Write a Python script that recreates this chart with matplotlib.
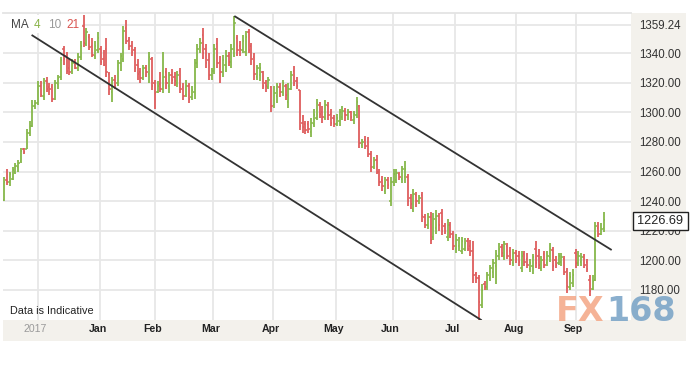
import matplotlib
matplotlib.use('Agg')
import matplotlib.pyplot as plt
from matplotlib.patches import Rectangle
import matplotlib.transforms as mtransforms
import numpy as np

# ---------------- data ----------------
opens = [1241,1254,1253,1255,1260,1263,1267,1275,1275,1286,1291,1304,1306,1318,1311,1321,1317,1317,1309,1319,
         1324,1343,1338,1330,1328,1334,1330,1337,1358,1346,1351,1345,1338,1342,1343,1336,1343,1326,1314,1322,
         1320,1333,1336,1357,1349,1345,1342,1332,1327,1323,1330,1326,1336,1320,1314,1319,1316,1327,1318,1325,
         1324,1320,1328,1317,1312,1318,1310,1314,1333,1344,1352,1343,1335,1325,1328,1346,1334,1327,1332,1338,
         1334,1340,1350,1345,1342,1341,1354,1345,1337,1324,1325,1327,1320,1317,1317,1305,1311,1317,1314,1318,
         1307,1316,1328,1321,1315,1293,1292,1292,1287,1292,1296,1305,1300,1296,1304,1299,1296,1292,1294,1297,
         1301,1298,1300,1295,1298,1304,1278,1281,1280,1272,1263,1268,1260,1254,1247,1254,1240,1253,1254,1258,
         1255,1256,1256,1242,1235,1244,1240,1244,1229,1224,1229,1216,1222,1230,1232,1223,1216,1224,1218,1208,
         1210,1206,1208,1213,1210,1206,1191,1188,1170,1184,1182,1188,1192,1196,1203,1209,1203,1210,1206,1198,
         1205,1203,1195,1204,1201,1194,1196,1208,1203,1195,1204,1198,1202,1207,1200,1198,1199,1201,1193,1182,
         1185,1205,1198,1199,1202,1199,1187,1181,1187,1222,1218,1222]
highs = [1256,1262,1260,1263,1266,1268,1276,1276,1289,1294,1308,1308,1321,1321,1323,1324,1320,1319,1322,1325,
         1337,1345,1341,1336,1336,1336,1340,1348,1366,1357,1353,1350,1348,1354,1345,1342,1350,1327,1324,1325,
         1335,1340,1358,1362,1351,1348,1344,1336,1330,1332,1332,1341,1337,1322,1321,1327,1341,1330,1327,1329,
         1327,1328,1330,1320,1322,1320,1318,1336,1346,1350,1357,1346,1340,1330,1346,1350,1338,1339,1342,1341,
         1346,1365,1352,1348,1352,1355,1356,1347,1340,1332,1333,1328,1322,1324,1318,1318,1320,1320,1322,1319,
         1320,1328,1331,1324,1315,1298,1294,1294,1296,1302,1309,1307,1304,1308,1307,1302,1298,1299,1302,1304,
         1303,1302,1301,1301,1310,1305,1282,1284,1283,1274,1270,1271,1262,1257,1256,1256,1256,1262,1262,1260,
         1264,1267,1258,1245,1248,1246,1244,1246,1231,1232,1233,1232,1234,1232,1235,1225,1228,1226,1220,1218,
         1216,1216,1215,1215,1214,1213,1192,1190,1184,1186,1192,1197,1201,1207,1212,1211,1213,1212,1209,1208,
         1207,1206,1206,1206,1205,1201,1204,1213,1208,1203,1206,1206,1212,1209,1203,1205,1205,1203,1195,1192,
         1194,1208,1206,1205,1204,1201,1190,1190,1226,1226,1225,1233]
lows = [1240,1251,1250,1254,1258,1260,1266,1272,1275,1284,1290,1302,1305,1310,1308,1314,1312,1307,1308,1316,
        1322,1332,1326,1325,1326,1329,1328,1335,1344,1345,1342,1337,1336,1340,1332,1331,1324,1312,1307,1316,
        1318,1328,1334,1346,1342,1338,1327,1322,1320,1322,1324,1320,1315,1302,1313,1314,1313,1316,1313,1319,
        1318,1317,1313,1308,1310,1306,1308,1309,1330,1340,1336,1330,1322,1322,1326,1330,1320,1324,1327,1331,
        1330,1337,1338,1338,1340,1338,1340,1332,1322,1322,1321,1316,1314,1316,1300,1303,1306,1310,1311,1308,
        1303,1315,1318,1316,1288,1286,1285,1286,1283,1290,1295,1296,1293,1295,1295,1291,1290,1291,1291,1295,
        1294,1295,1294,1292,1296,1276,1276,1275,1270,1260,1262,1258,1250,1247,1245,1248,1237,1250,1252,1254,
        1252,1252,1237,1235,1233,1236,1238,1226,1222,1221,1211,1214,1218,1220,1217,1218,1213,1215,1207,1205,
        1206,1204,1206,1206,1203,1185,1185,1160,1168,1180,1180,1186,1188,1184,1200,1202,1200,1201,1197,1196,
        1198,1196,1192,1196,1195,1192,1191,1195,1194,1193,1195,1196,1199,1193,1195,1197,1196,1190,1178,1180,
        1182,1195,1196,1196,1195,1192,1176,1180,1186,1216,1217,1219]
closes = [1253,1253,1258,1261,1264,1266,1274,1273,1286,1291,1304,1306,1318,1312,1320,1316,1316,1309,1320,1323,
          1335,1336,1328,1327,1333,1330,1337,1345,1347,1354,1344,1339,1345,1350,1334,1332,1327,1316,1321,1318,
          1333,1338,1355,1348,1345,1341,1330,1326,1323,1330,1327,1337,1318,1313,1318,1316,1324,1320,1325,1322,
          1321,1325,1316,1311,1318,1309,1315,1333,1343,1347,1340,1333,1325,1328,1343,1333,1327,1335,1338,1334,
          1343,1360,1342,1343,1348,1351,1342,1336,1326,1330,1330,1318,1318,1322,1304,1313,1318,1314,1320,1312,
          1316,1325,1320,1318,1291,1290,1288,1289,1293,1298,1306,1299,1297,1305,1298,1293,1292,1296,1300,1301,
          1298,1300,1297,1299,1307,1279,1280,1277,1272,1263,1267,1260,1253,1250,1253,1251,1253,1258,1259,1256,
          1262,1262,1240,1238,1245,1240,1242,1230,1224,1229,1214,1228,1230,1224,1220,1220,1224,1218,1210,1214,
          1215,1213,1212,1208,1206,1190,1188,1172,1180,1182,1190,1195,1198,1204,1208,1205,1211,1203,1200,1205,
          1201,1199,1203,1199,1197,1198,1202,1198,1197,1200,1197,1203,1208,1196,1197,1203,1202,1192,1183,1189,
          1190,1198,1203,1202,1197,1194,1179,1186,1223,1218,1221,1227]

month_labels = ['2017', 'Jan', 'Feb', 'Mar', 'Apr', 'May', 'Jun', 'Jul', 'Aug', 'Sep']
month_pos = [11.85, 33.76, 53.1, 73.5, 94.6, 116.75, 136.8, 158.6, 180.05, 201.15]
ytick_values = [1180, 1200, 1220, 1240, 1260, 1280, 1300, 1320, 1340, 1359.24]
last_price = 1226.69

upper_line_idx = [81, 213.7]
upper_line_price = [1365, 1207]
lower_line_idx = [9.7, 168]
lower_line_price = [1352.2, 1159.5]

# ---------------- layout ----------------
W, H = 699, 366
def fx(px): return px / W
def fy(py): return 1 - py / H

plt.rcParams['font.family'] = ['Liberation Sans', 'DejaVu Sans']
fig = plt.figure(figsize=(W / 100, H / 100), dpi=100)
fig.patch.set_facecolor('white')

beige = '#f3f1ec'
fig.add_artist(Rectangle((fx(3), fy(341)), (686 - 3) / W, (341 - 320) / H,
                         transform=fig.transFigure, facecolor=beige, edgecolor='none', zorder=-2))
fig.add_artist(Rectangle((fx(631), fy(341)), (686 - 631) / W, (341 - 13) / H,
                         transform=fig.transFigure, facecolor=beige, edgecolor='none', zorder=-2))

ax = fig.add_axes([fx(3), fy(320), (631 - 3) / W, (320 - 13) / H])
ax.set_facecolor('white')

n = len(closes)
x = np.arange(n)
o = np.array(opens, float); h = np.array(highs, float)
l = np.array(lows, float); c = np.array(closes, float)
green, red = '#86b84a', '#de5d5d'
cols = [green if cc >= oo else red for oo, cc in zip(o, c)]

ax.vlines(x, l, h, colors=cols, lw=1.3, zorder=3)
ax.hlines(o, x - 0.5, x, colors=cols, lw=1.1, zorder=3)
ax.hlines(c, x, x + 0.5, colors=cols, lw=1.1, zorder=3)

ax.plot(upper_line_idx, upper_line_price, color='#333333', lw=1.3, zorder=4, solid_capstyle='butt')
ax.plot(lower_line_idx, lower_line_price, color='#333333', lw=1.3, zorder=4, solid_capstyle='butt')

s = 600 / 211
ax.set_xlim(-1 / s, 627 / s)
ax.set_ylim(1180 - 30 / 1.481, 1180 + 277 / 1.481)

ax.set_xticks(month_pos)
ax.set_xticklabels([])
ax.set_yticks(ytick_values)
ax.set_yticklabels(['%.2f' % v for v in ytick_values])
ax.yaxis.tick_right()
ax.tick_params(axis='y', length=0, pad=6, labelsize=8.3, labelcolor='#333333')
ax.tick_params(axis='x', length=0)
ax.grid(True, color='#e7e7e7', lw=1.3)
ax.set_axisbelow(True)
for sp in ['left', 'right', 'bottom']:
    ax.spines[sp].set_visible(False)
ax.spines['top'].set_color('#e4e4e4')
ax.spines['top'].set_linewidth(1.3)

off = mtransforms.ScaledTranslation(-2.5 / 100, 0, fig.dpi_scale_trans)
for pos, lab in zip(month_pos, month_labels):
    if lab == '2017':
        ax.text(pos, -9.5 / 307, lab, transform=ax.get_xaxis_transform() + off, ha='center', va='center',
                fontsize=7.6, color='#9a9a9a', clip_on=False)
    else:
        ax.text(pos, -9.5 / 307, lab, transform=ax.get_xaxis_transform() + off, ha='center', va='center',
                fontsize=7.6, color='#222222', fontweight='bold', clip_on=False)

# legend box
fig.add_artist(Rectangle((fx(3), fy(33)), (82 - 3) / W, (33 - 15) / H, transform=fig.transFigure,
                         facecolor='white', edgecolor='none', zorder=5))
fig.text(fx(11), fy(25.5), 'MA', fontsize=8.5, color='#444444', va='center', ha='left', zorder=6)
fig.text(fx(34), fy(25.5), '4', fontsize=8.5, color='#8ab34a', va='center', ha='left', zorder=6)
fig.text(fx(48), fy(25.5), '10', fontsize=8.5, color='#9a9a9a', va='center', ha='left', zorder=6)
fig.text(fx(66), fy(25.5), '21', fontsize=8.5, color='#d9534f', va='center', ha='left', zorder=6)

fig.text(fx(10), fy(311), 'Data is Indicative', fontsize=7.8, color='#222222', va='center', ha='left', zorder=6)

# last price box
fig.add_artist(Rectangle((fx(633), fy(230)), (688 - 633) / W, 18 / H, transform=fig.transFigure,
                         facecolor='white', edgecolor='#222222', lw=1.0, zorder=7))
fig.text(fx(660.5), fy(221), '%.2f' % last_price, fontsize=9.2, color='#222222', va='center', ha='center', zorder=8)

# watermark
fig.text(fx(556), fy(321), 'FX', fontsize=24, fontweight='bold', color='#f4a685', alpha=0.85,
         family='DejaVu Sans', va='baseline', ha='left', zorder=9)
fig.text(fx(606), fy(321), '168', fontsize=24, fontweight='bold', color='#76a1c6', alpha=0.85,
         family='DejaVu Sans', va='baseline', ha='left', zorder=9)

fig.savefig('out.png', dpi=100, facecolor='white')
